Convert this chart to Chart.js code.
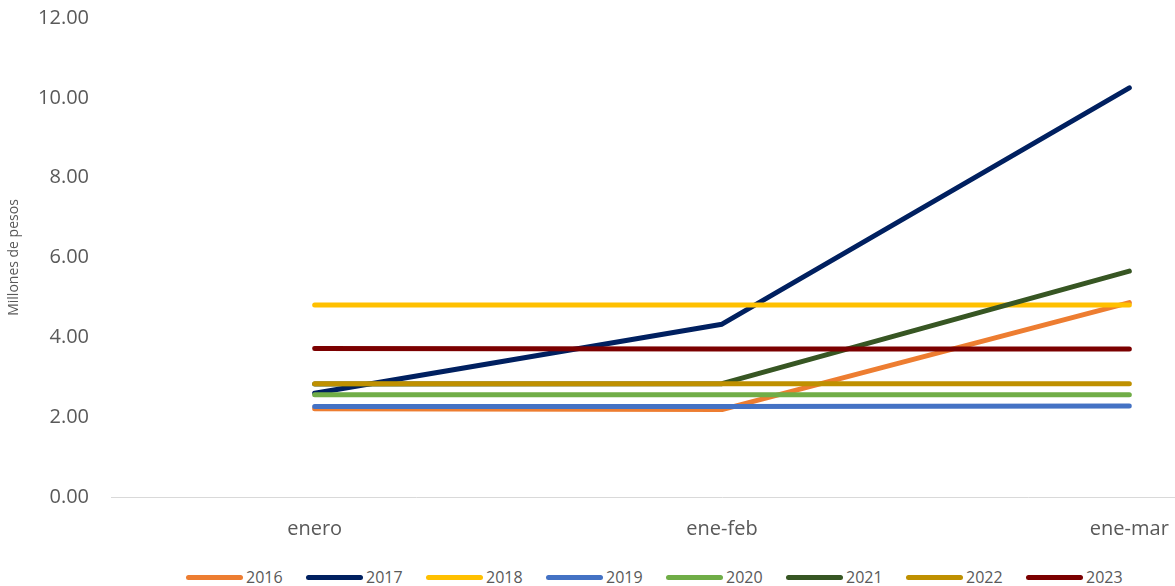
<!DOCTYPE html>
<html>
<head>
<meta charset="utf-8">
<script src="https://cdn.jsdelivr.net/npm/chart.js@4"></script>
<style>
  html, body { margin: 0; padding: 0; background: #fff; overflow: hidden; }
  #wrap { position: relative; width: 1175px; height: 586px; overflow: hidden; }
  #box { position: absolute; left: 0; top: 0; width: 1345px; height: 560px; }
  #leg { position: absolute; left: 186px; top: 567px; display: flex; font: 16px 'Open Sans', sans-serif; color: #595959; }
  #leg span { display: flex; align-items: center; width: 120px; line-height: 20px; }
  #leg i { display: inline-block; width: 57px; height: 5px; border-radius: 3px; margin-right: 3px; }
</style>
</head>
<body>
<div id="wrap">
  <div id="box"><canvas id="c"></canvas></div>
  <div id="leg"></div>
</div>
<script>
// ── Data ──
const months = ['enero', 'ene-feb', 'ene-mar'];
const years  = ['2016', '2017', '2018', '2019', '2020', '2021', '2022', '2023'];
const colors = ['#ED7D31', '#002060', '#FFC000', '#4472C4', '#70AD47', '#375623', '#BF9000', '#7B0000'];

const v2016 = [2.21, 2.19, 4.87];
const v2017 = [2.60, 4.33, 10.25];
const v2018 = [4.81, 4.81, 4.81];
const v2019 = [2.27, 2.27, 2.28];
const v2020 = [2.56, 2.56, 2.56];
const v2021 = [2.83, 2.84, 5.66];
const v2022 = [2.84, 2.84, 2.84];
const v2023 = [3.72, 3.71, 3.71];
const series = [v2016, v2017, v2018, v2019, v2020, v2021, v2022, v2023];

const ink = '#595959';
const ff = "'Open Sans', sans-serif";

// ── Legend ──
document.getElementById('leg').innerHTML = years.map((y, i) =>
  `<span><i style="background:${colors[i]}"></i>${y}</span>`).join('');

// ── Chart ──
new Chart(document.getElementById('c').getContext('2d'), {
  type: 'line',
  data: {
    labels: months,
    datasets: series.map((d, i) => ({
      label: years[i], data: d, borderColor: colors[i], backgroundColor: colors[i],
      borderWidth: 5, pointRadius: 0, tension: 0, fill: false,
      borderCapStyle: 'round', borderJoinStyle: 'round',
      order: years.length - i
    }))
  },
  options: {
    responsive: true, maintainAspectRatio: false, animation: false,
    layout: { padding: { top: 18, right: 12, left: 0, bottom: 0 } },
    plugins: { legend: { display: false }, tooltip: { enabled: false } },
    scales: {
      x: {
        offset: true,
        grid: { display: false, drawTicks: false },
        border: { display: true, color: '#d9d9d9', width: 1 },
        ticks: { color: ink, font: { family: ff, size: 20 }, padding: 20, maxRotation: 0 },
        afterFit: s => { s.height = 63; s.paddingLeft = 0; s.paddingRight = 0; }
      },
      y: {
        min: 0, max: 12,
        grid: { display: false, drawTicks: false },
        border: { display: false },
        ticks: { stepSize: 2, color: ink, font: { family: ff, size: 20 }, padding: 22, callback: v => v.toFixed(2) },
        title: { display: true, text: 'Millones de pesos', color: ink, font: { family: ff, size: 14 }, padding: { top: 6, bottom: 0 } },
        afterFit: s => { s.width = 111; s.paddingTop = 0; s.paddingBottom = 0; }
      }
    }
  }
});
</script>
</body>
</html>
